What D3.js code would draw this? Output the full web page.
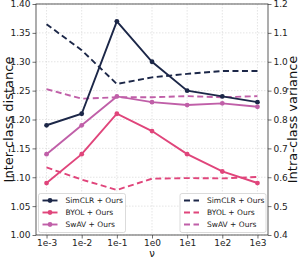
<!DOCTYPE html>
<html><head><meta charset="utf-8">
<script src="https://cdn.jsdelivr.net/npm/d3@7"></script>
<style>body{margin:0;background:#fff}svg{display:block;font-family:"DejaVu Sans",sans-serif}</style>
</head><body>
<svg id="c" width="299" height="258"></svg>
<script>
const xLabels = ["1e-3","1e-2","1e-1","1e0","1e1","1e2","1e3"];
const xExp = [-3,-2,-1,0,1,2,3];
const names = ["SimCLR + Ours","BYOL + Ours","SwAV + Ours"];
const colors = ["#1c2748","#e0457b","#c05fa8"];
const interSimCLR = [1.19,1.21,1.37,1.30,1.25,1.24,1.23];
const interBYOL   = [1.09,1.14,1.21,1.18,1.14,1.11,1.09];
const interSwAV   = [1.14,1.19,1.24,1.23,1.225,1.228,1.222];
const intraSimCLR = [1.13,1.04,0.923,0.946,0.958,0.968,0.968];
const intraBYOL   = [0.634,0.592,0.556,0.595,0.597,0.596,0.601];
const intraSwAV   = [0.905,0.872,0.877,0.877,0.881,0.877,0.881];
const leftTicks = [1.00,1.05,1.10,1.15,1.20,1.25,1.30,1.35,1.40];
const rightTicks = [0.4,0.5,0.6,0.7,0.8,0.9,1.0,1.1,1.2];

const svg = d3.select("#c");
const L=36,R=268,T=4,B=235;
const x = d3.scaleLinear().domain([-3.3,3.3]).range([L,R]);
const yl = d3.scaleLinear().domain([1.0,1.4]).range([B,T]);
const yr = d3.scaleLinear().domain([0.4,1.2]).range([B,T]);

// grid
const g = svg.append("g");
xExp.forEach(v=>g.append("line").attr("x1",x(v)).attr("x2",x(v)).attr("y1",T).attr("y2",B)
  .attr("stroke","#d4d4d4").attr("stroke-width",0.6).attr("stroke-dasharray","1.5,1.5"));
leftTicks.forEach(v=>g.append("line").attr("x1",L).attr("x2",R).attr("y1",yl(v)).attr("y2",yl(v))
  .attr("stroke","#d4d4d4").attr("stroke-width",0.6).attr("stroke-dasharray","1.5,1.5"));

const line = (ys)=>d3.line().x((d,i)=>x(xExp[i])).y(d=>ys(d));
const inter=[interSimCLR,interBYOL,interSwAV], intra=[intraSimCLR,intraBYOL,intraSwAV];
intra.forEach((s,k)=>{
  svg.append("path").attr("d",line(yr)(s)).attr("fill","none").attr("stroke",colors[k])
   .attr("stroke-width",1.9).attr("stroke-dasharray","6,3.5");
});
inter.forEach((s,k)=>{
  svg.append("path").attr("d",line(yl)(s)).attr("fill","none").attr("stroke",colors[k]).attr("stroke-width",1.9);
  svg.selectAll(null).data(s).enter().append("circle").attr("cx",(d,i)=>x(xExp[i])).attr("cy",d=>yl(d))
    .attr("r",2.4).attr("fill",colors[k]);
});

// axes
const ax = svg.append("g").attr("transform",`translate(0,${B})`)
  .call(d3.axisBottom(x).tickValues(xExp).tickFormat((d,i)=>xLabels[i]).tickSize(3.5).tickPadding(1.5));
const al = svg.append("g").attr("transform",`translate(${L},0)`)
  .call(d3.axisLeft(yl).tickValues(leftTicks).tickFormat(d3.format(".2f")).tickSize(3.5).tickPadding(2));
const ar = svg.append("g").attr("transform",`translate(${R},0)`)
  .call(d3.axisRight(yr).tickValues(rightTicks).tickFormat(d3.format(".1f")).tickSize(3.5).tickPadding(2));
[ax,al,ar].forEach(a=>{a.select(".domain").remove();a.selectAll("text").attr("font-size",9).attr("fill","#222").attr("font-family","DejaVu Sans");
  a.selectAll("line").attr("stroke","#333").attr("stroke-width",0.7);});
svg.append("rect").attr("x",L).attr("y",T).attr("width",R-L).attr("height",B-T).attr("fill","none").attr("stroke","#333").attr("stroke-width",0.8);

svg.append("text").attr("transform",`translate(12.5,${(T+B)/2}) rotate(-90)`).attr("text-anchor","middle")
  .attr("font-size",13).attr("fill","#111").text("Inter-class distance");
svg.append("text").attr("transform",`translate(297,${(T+B)/2}) rotate(-90)`).attr("text-anchor","middle")
  .attr("font-size",13).attr("fill","#111").text("Intra-class variance");
svg.append("text").attr("x",(L+R)/2).attr("y",257).attr("text-anchor","middle").attr("font-size",10).attr("fill","#111").text("ν");

// legends
function legend(x0,y0,w,dashed){
  const lg = svg.append("g").attr("transform",`translate(${x0},${y0})`);
  lg.append("rect").attr("width",w).attr("height",39).attr("rx",2).attr("fill","rgba(255,255,255,0.85)").attr("stroke","#ccc").attr("stroke-width",0.7);
  names.forEach((n,k)=>{
    const yy=7+k*12;
    lg.append("line").attr("x1",4).attr("x2",19).attr("y1",yy).attr("y2",yy).attr("stroke",colors[k]).attr("stroke-width",1.9)
      .attr("stroke-dasharray",dashed?"6,3.5":null);
    if(!dashed) lg.append("circle").attr("cx",11.5).attr("cy",yy).attr("r",2.4).attr("fill",colors[k]);
    lg.append("text").attr("x",27).attr("y",yy+2.8).attr("font-size",7.5).attr("fill","#222").text(n);
  });
}
legend(38.5,193.5,87,false);
legend(180,193.5,86,true);
</script>
</body></html>
